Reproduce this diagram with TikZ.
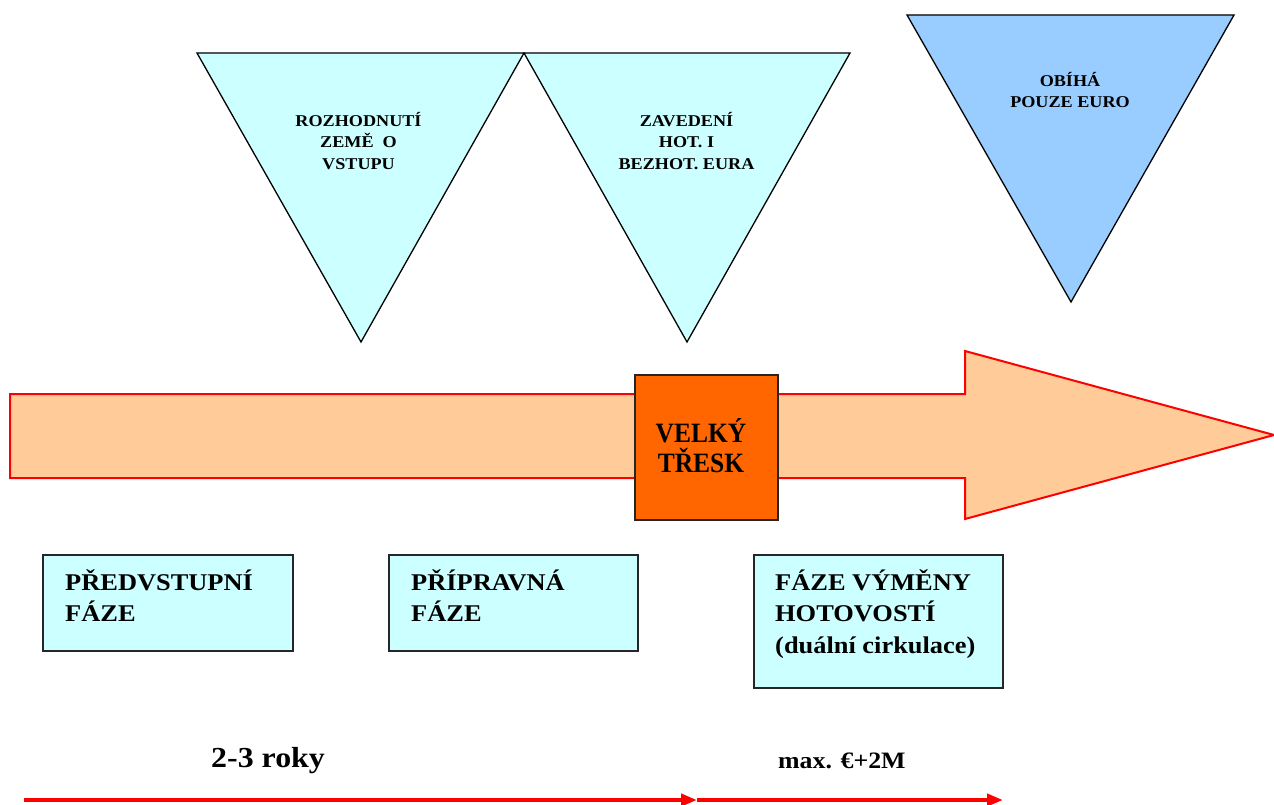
\documentclass[tikz,border=0pt]{standalone}
\usepackage{fontspec}
\setmainfont{Liberation Serif}
\newfontfamily\widefont[FakeStretch=1.1]{Liberation Serif}
\newfontfamily\narrowfont[FakeStretch=0.91]{Liberation Serif}
\usetikzlibrary{arrows.meta}
\definecolor{lcyan}{HTML}{CCFFFF}
\definecolor{lblue}{HTML}{99CCFF}
\definecolor{borange}{HTML}{FF6600}
\definecolor{peach}{HTML}{FFCC99}
\definecolor{pred}{HTML}{FF0000}
\tikzset{
  tri/.style={draw=black, line width=1.3pt, line join=miter},
  tritext/.style={anchor=north, inner sep=0pt, align=center,
    font=\widefont\bfseries\fontsize{16.5}{21.5}\selectfont},
  phasebox/.style={draw=black!85, line width=2pt, fill=lcyan, inner sep=0pt},
  phasetext/.style={anchor=north west, inner sep=0pt, align=left,
    font=\widefont\bfseries\fontsize{24}{31.5}\selectfont},
  bangbox/.style={draw=black!85, line width=2pt, fill=borange, inner sep=0pt},
  bigarrow/.style={draw=pred, line width=2pt, fill=peach, line join=miter},
  timearrow/.style={draw=pred, line width=4.5pt, -{Triangle[length=16pt,width=12pt]}},
  timetext/.style={anchor=base west, inner sep=0pt}
}
\begin{document}
\begin{tikzpicture}[x=1pt,y=-1pt]
\useasboundingbox (0,0) rectangle (1274,805);

% triangles
\path[tri, fill=lcyan] (197,53) -- (524,53) -- (361,342) -- cycle;
\path[tri, fill=lcyan] (524,53) -- (850,53) -- (687,342) -- cycle;
\path[tri, fill=lblue] (907,15) -- (1234,15) -- (1071,302) -- cycle;

\node[tritext] (t1) at (358.5,109) {\rule{0pt}{17pt}ROZHODNUTÍ\\ZEMĚ~~O\\VSTUPU};
\node[tritext] (t2) at (686.5,109) {\rule{0pt}{17pt}ZAVEDENÍ\\HOT. I\\BEZHOT. EURA};
\node[tritext, font=\widefont\bfseries\fontsize{16.5}{21}\selectfont] (t3) at (1070,69.7) {\rule{0pt}{17pt}OBÍHÁ\\POUZE EURO};

% big arrow
\path[bigarrow] (10,394) -- (965,394) -- (965,351) -- (1274,435) -- (965,519) -- (965,478) -- (10,478) -- cycle;

% big bang box
\node[bangbox, minimum width=143pt, minimum height=145pt] (bang) at (706.5,447.5) {};
\node[anchor=north, inner sep=0pt, align=center,
  font=\narrowfont\bfseries\fontsize{28}{30}\selectfont] (bangt) at (701,414) {\rule{0pt}{28pt}VELKÝ\\TŘESK};

% phase boxes
\node[phasebox, minimum width=250pt, minimum height=96pt] (b1) at (168,603) {};
\node[phasebox, minimum width=249pt, minimum height=96pt] (b2) at (513.5,603) {};
\node[phasebox, minimum width=249pt, minimum height=133pt] (b3) at (878.5,621.5) {};
\node[phasetext] (b1t) at (65,566) {\rule{0pt}{24pt}PŘEDVSTUPNÍ\\FÁZE};
\node[phasetext] (b2t) at (411,566) {\rule{0pt}{24pt}PŘÍPRAVNÁ\\FÁZE};
\node[phasetext] (b3t) at (775,566) {\rule{0pt}{24pt}FÁZE VÝMĚNY\\HOTOVOSTÍ\\(duální cirkulace)};

% time labels
\node[timetext, font=\widefont\bfseries\fontsize{29}{32}\selectfont] (d1) at (211,767.3) {2-3 roky};
\node[timetext, font=\widefont\bfseries\fontsize{23.5}{26}\selectfont] (d2) at (778,768) {max. €+2M};

% time arrows
\coordinate (a0) at (24,800);
\coordinate (a1) at (697,800);
\coordinate (a2) at (1003,800);
\draw[timearrow] (a0) -- (a1);
\draw[timearrow] (a1) -- (a2);
\end{tikzpicture}
\end{document}
